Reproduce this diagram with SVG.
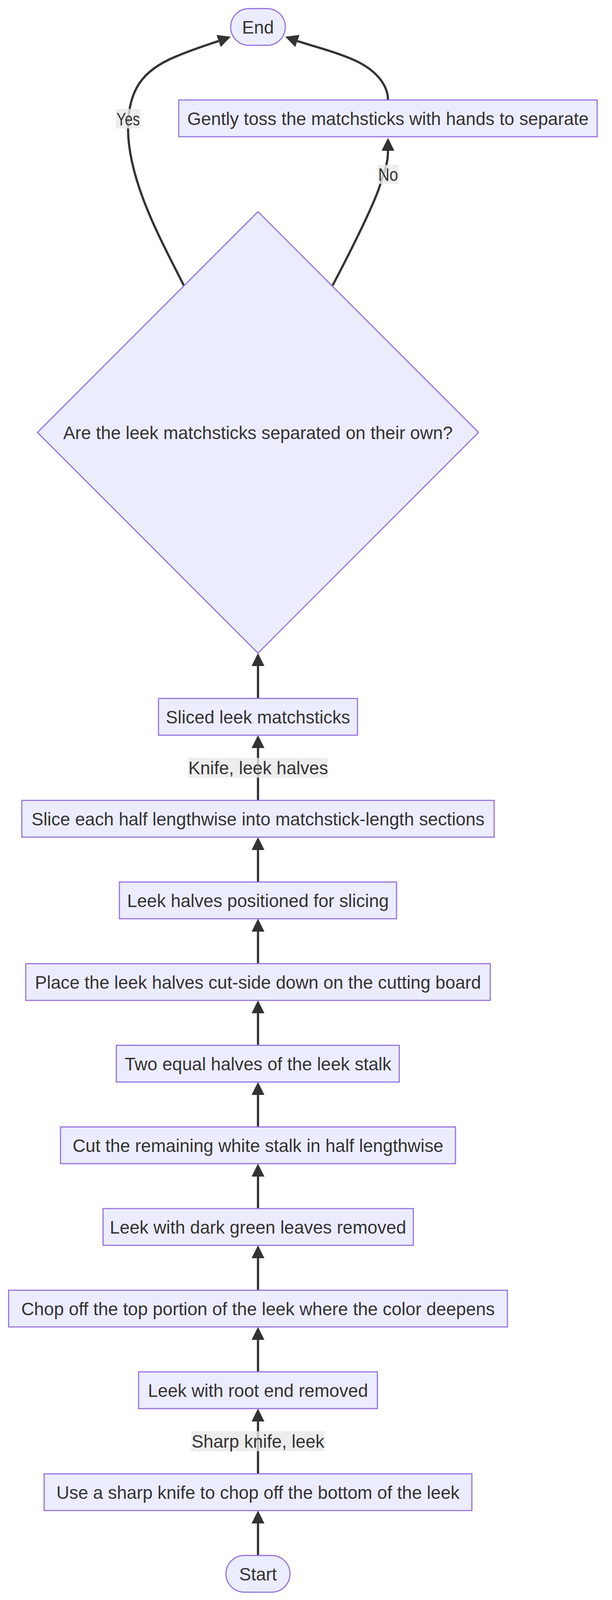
<svg xmlns="http://www.w3.org/2000/svg" width="1568" height="4420" viewBox="0 0 1568 4420">
<style>
.node rect, .node polygon { fill: #ECECFF; stroke: #9370DB; stroke-width: 2.86; }
.node text, .lbl text { font-family: "Liberation Sans", Arial, sans-serif; font-size: 45.7px; fill: #333333; text-anchor: middle; }
.edge { fill: none; stroke: #333333; stroke-width: 5.7; }
.lbl rect { fill: #e8e8e8; fill-opacity: 0.8; stroke: none; }
</style>
<defs>
<marker id="arr" viewBox="0 0 10 10" refX="0" refY="5" markerUnits="userSpaceOnUse" markerWidth="33" markerHeight="33" orient="auto">
<path d="M0,0 L10,5 L0,10 z" fill="#333333"/>
</marker>
</defs>
<rect width="1568" height="4420" fill="#ffffff"/>

<g id="connectors">
<path class="edge" marker-end="url(#arr)" d="M661,3982 L661,3900"/>
<path class="edge" marker-end="url(#arr)" d="M661,3773 L661,3639"/>
<path class="edge" marker-end="url(#arr)" d="M661,3512 L661,3430"/>
<path class="edge" marker-end="url(#arr)" d="M661,3303 L661,3221"/>
<path class="edge" marker-end="url(#arr)" d="M661,3094 L661,3012"/>
<path class="edge" marker-end="url(#arr)" d="M661,2885 L661,2803"/>
<path class="edge" marker-end="url(#arr)" d="M661,2676 L661,2594"/>
<path class="edge" marker-end="url(#arr)" d="M661,2467 L661,2385"/>
<path class="edge" marker-end="url(#arr)" d="M661,2258 L661,2176"/>
<path class="edge" marker-end="url(#arr)" d="M661,2049 L661,1915"/>
<path class="edge" marker-end="url(#arr)" d="M661,1788 L661,1705"/>
<path class="edge" marker-end="url(#arr)" d="M471,731 C420,628 329,470 328,330 C328,230 365,180 450,145 C500,124 530,115.5 560,105"/>
<path class="edge" marker-end="url(#arr)" d="M852,731 C900,640 960,520 975,470 C985,437 994,420 994,386"/>
<path class="edge" marker-end="url(#arr)" d="M994,256 C994,215 960,178 910,155 C860,132 792,115.5 762,105"/>
</g>

<g id="edge-labels">
<g class="lbl" id="label-yes"><rect x="297" y="279" width="63" height="50"/><text x="328.5" y="320.5" textLength="60" lengthAdjust="spacingAndGlyphs">Yes</text></g>
<g class="lbl" id="label-no"><rect x="968" y="422" width="53" height="49"/><text x="994.5" y="463" textLength="51" lengthAdjust="spacingAndGlyphs">No</text></g>
<g class="lbl" id="label-knife"><rect x="483" y="1940" width="357" height="51"/><text x="661.5" y="1982">Knife, leek halves</text></g>
<g class="lbl" id="label-sharp"><rect x="490" y="3664" width="342" height="51"/><text x="661" y="3706">Sharp knife, leek</text></g>
</g>

<g class="node" id="end"><rect x="591" y="22" width="140" height="94" rx="47" ry="47"/><text x="661" y="85.5">End</text></g>
<g class="node" id="toss"><rect x="458" y="256" width="1072" height="94"/><text x="994" y="319.5">Gently toss the matchsticks with hands to separate</text></g>
<g class="node" id="decision"><polygon points="661,542 1226,1107 661,1672 96,1107"/><text x="661" y="1123.5">Are the leek matchsticks separated on their own?</text></g>
<g class="node" id="sliced"><rect x="406" y="1788" width="510" height="94"/><text x="661" y="1851.5">Sliced leek matchsticks</text></g>
<g class="node" id="slice"><rect x="56" y="2049" width="1210" height="94"/><text x="661" y="2112.5">Slice each half lengthwise into matchstick-length sections</text></g>
<g class="node" id="positioned"><rect x="306" y="2258" width="710" height="94"/><text x="661" y="2321.5">Leek halves positioned for slicing</text></g>
<g class="node" id="place"><rect x="66" y="2467" width="1190" height="94"/><text x="661" y="2530.5">Place the leek halves cut-side down on the cutting board</text></g>
<g class="node" id="halves"><rect x="298" y="2676" width="725" height="94"/><text x="661" y="2739.5">Two equal halves of the leek stalk</text></g>
<g class="node" id="cut"><rect x="155" y="2885" width="1012" height="94"/><text x="661" y="2948.5">Cut the remaining white stalk in half lengthwise</text></g>
<g class="node" id="dark"><rect x="264" y="3094" width="795" height="94"/><text x="661" y="3157.5">Leek with dark green leaves removed</text></g>
<g class="node" id="chop"><rect x="22" y="3303" width="1278" height="94"/><text x="661" y="3366.5">Chop off the top portion of the leek where the color deepens</text></g>
<g class="node" id="root"><rect x="355" y="3512" width="612" height="94"/><text x="661" y="3575.5">Leek with root end removed</text></g>
<g class="node" id="use"><rect x="113" y="3773" width="1096" height="94"/><text x="661" y="3836.5">Use a sharp knife to chop off the bottom of the leek</text></g>
<g class="node" id="start"><rect x="579" y="3982" width="164" height="94" rx="47" ry="47"/><text x="661" y="4045.5">Start</text></g>
</svg>
